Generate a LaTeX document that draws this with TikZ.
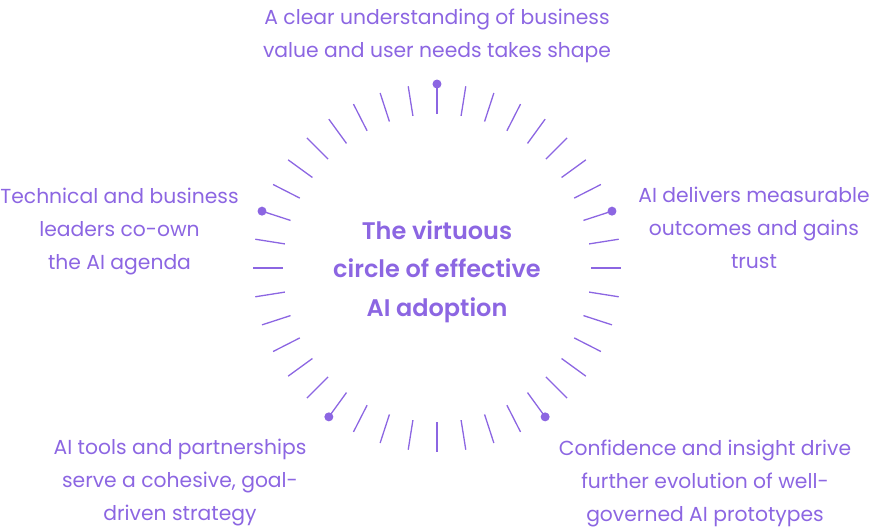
\documentclass[tikz,border=0pt]{standalone}
\usepackage{fontspec}
\setmainfont{Poppins}[BoldFont={Poppins SemiBold}]
\usetikzlibrary{positioning}
\definecolor{virtuepurple}{RGB}{140, 102, 226}

\begin{document}
\begin{tikzpicture}[x=1pt, y=1pt,
    tick/.style={draw=virtuepurple, line width=1.3pt},
    stagedot/.style={circle, fill=virtuepurple, inner sep=0pt, minimum size=9pt},
    stagelabel/.style={text=virtuepurple, font=\fontsize{20.3}{33}\selectfont, align=center},
    hubtitle/.style={text=virtuepurple, font=\fontsize{24}{38.5}\selectfont\bfseries, align=center}]
        \useasboundingbox (-437, -263) rectangle (433, 268);

        % Ring of radial ticks
        \foreach \a in {0,9,...,351}
            \draw[tick] (\a:154) -- (\a:184);

        % Stage markers
        \foreach \a/\n in {90/top, 18/right, -54/lowright, -126/lowleft, 162/left}
            \node[stagedot] (dot\n) at (\a:184) {};

        % Centre title
        \node[hubtitle] (hub) at (0, -3.5) {The virtuous\\circle of effective\\AI adoption};

        % Stage labels
        \node[stagelabel] (stagetop) at (0, 232.5) {A clear understanding of business\\value and user needs takes shape};
        \node[stagelabel] (stageright) at (317, 40) {AI delivers measurable\\outcomes and gains\\trust};
        \node[stagelabel] (stagelowright) at (268, -215) {Confidence and insight drive\\further evolution of well-\\governed AI prototypes};
        \node[stagelabel] (stagelowleft) at (-257, -215) {AI tools and partnerships\\serve a cohesive, goal-\\driven strategy};
        \node[stagelabel] (stageleft) at (-317.5, 36) {Technical and business\\leaders co-own\\the AI agenda};
    \end{tikzpicture}
\end{document}
